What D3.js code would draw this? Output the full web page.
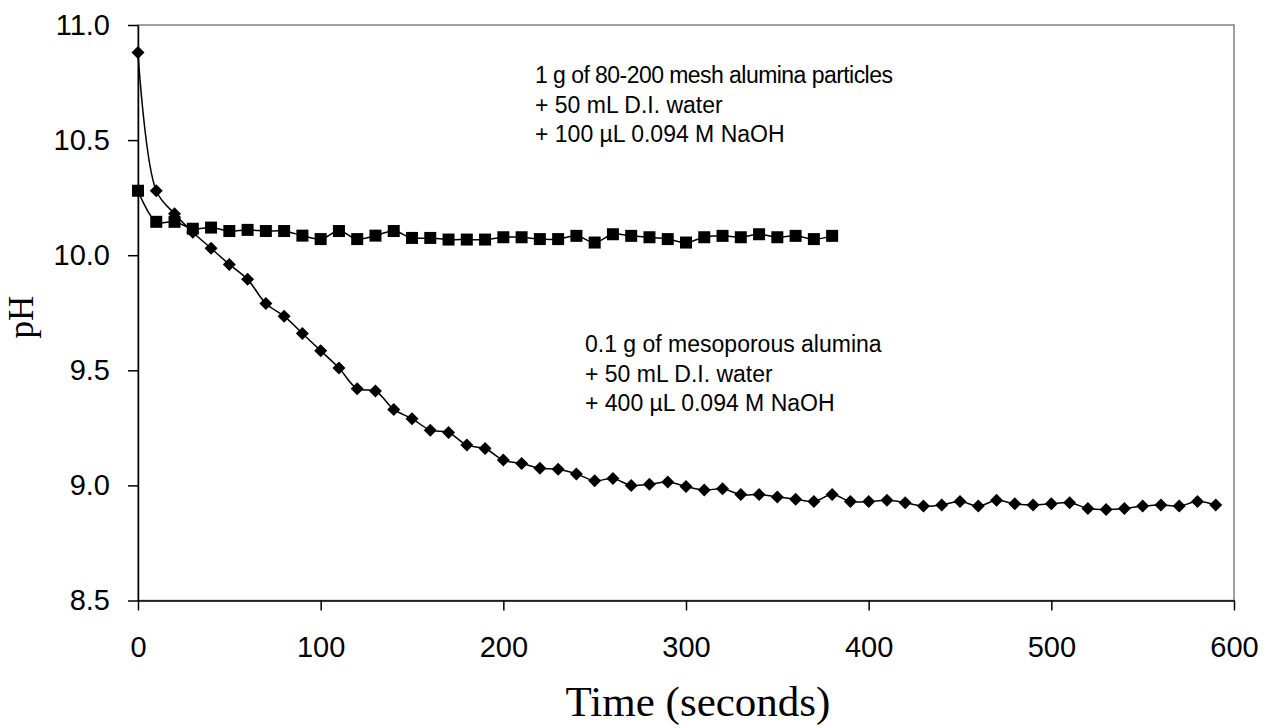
<!DOCTYPE html>
<html>
<head>
<meta charset="utf-8">
<script src="https://cdn.jsdelivr.net/npm/d3@7"></script>
<style>
    body { margin: 0; background: #fff; }
    svg { display: block; }
</style>
</head>
<body>
<svg id="chart"></svg>
<script>
// time (s) for the mesoporous alumina run
const timeMeso = [0, 10, 20, 30, 40, 50, 60, 70, 80, 90,
    100, 110, 120, 130, 140, 150, 160, 170, 180, 190,
    200, 210, 220, 230, 240, 250, 260, 270, 280, 290,
    300, 310, 320, 330, 340, 350, 360, 370, 380, 390,
    400, 410, 420, 430, 440, 450, 460, 470, 480, 490,
    500, 510, 520, 530, 540, 550, 560, 570, 580, 590];
const phMeso = [10.88, 10.28, 10.18, 10.10, 10.03, 9.96, 9.895, 9.79, 9.735, 9.66,
    9.585, 9.51, 9.42, 9.41, 9.33, 9.29, 9.24, 9.23, 9.175, 9.16,
    9.11, 9.095, 9.075, 9.07, 9.05, 9.02, 9.03, 9.00, 9.005, 9.015,
    8.995, 8.98, 8.985, 8.96, 8.96, 8.95, 8.94, 8.93, 8.96, 8.93,
    8.93, 8.935, 8.925, 8.91, 8.915, 8.93, 8.91, 8.935, 8.92, 8.915,
    8.92, 8.925, 8.90, 8.895, 8.90, 8.91, 8.915, 8.91, 8.93, 8.915];

// time (s) for the 80-200 mesh particle run
const timeMesh = [0, 10, 20, 30, 40, 50, 60, 70, 80, 90,
    100, 110, 120, 130, 140, 150, 160, 170, 180, 190,
    200, 210, 220, 230, 240, 250, 260, 270, 280, 290,
    300, 310, 320, 330, 340, 350, 360, 370, 380];
const phMesh = [10.28, 10.145, 10.145, 10.115, 10.12, 10.105, 10.11, 10.105, 10.105, 10.085,
    10.07, 10.105, 10.07, 10.085, 10.105, 10.075, 10.075, 10.068, 10.068, 10.068,
    10.078, 10.078, 10.07, 10.07, 10.084, 10.055, 10.091, 10.084, 10.078, 10.07,
    10.055, 10.078, 10.084, 10.078, 10.091, 10.078, 10.084, 10.07, 10.084];

const xTicks = [0, 100, 200, 300, 400, 500, 600];
const yTicks = [8.5, 9.0, 9.5, 10.0, 10.5, 11.0];

const noteMesh = ['1 g of 80-200 mesh alumina particles', '+ 50 mL D.I. water', '+ 100 µL 0.094 M NaOH'];
const noteMeso = ['0.1 g of mesoporous alumina', '+ 50 mL D.I. water', '+ 400 µL 0.094 M NaOH'];

const width = 1264, height = 728;
const margin = { top: 25, right: 30, bottom: 127.5, left: 138 };
const innerW = width - margin.left - margin.right;
const innerH = height - margin.top - margin.bottom;

const svg = d3.select('#chart')
    .attr('width', width)
    .attr('height', height);

const chart = svg.append('g')
    .attr('transform', `translate(${margin.left}, ${margin.top})`);

const xscale = d3.scaleLinear().domain([0, 600]).range([0, innerW]);
const yscale = d3.scaleLinear().domain([8.5, 11.0]).range([innerH, 0]);

// plot area border (top and right show grey)
chart.append('rect')
    .attr('x', 0).attr('y', 0)
    .attr('width', innerW).attr('height', innerH)
    .attr('fill', 'none')
    .attr('stroke', '#808080')
    .attr('stroke-width', 1.5);

const xaxis = d3.axisBottom(xscale)
    .tickValues(xTicks)
    .tickSize(10)
    .tickSizeOuter(0)
    .tickPadding(26);

const yaxis = d3.axisLeft(yscale)
    .tickValues(yTicks)
    .tickFormat(d3.format('.1f'))
    .tickSize(10)
    .tickSizeOuter(0)
    .tickPadding(18);

const xg = chart.append('g')
    .attr('transform', `translate(0, ${innerH})`)
    .call(xaxis);
const yg = chart.append('g').call(yaxis);

[xg, yg].forEach(g => {
    g.select('.domain').attr('stroke', '#000').attr('stroke-width', 1.5);
    g.selectAll('.tick line').attr('stroke', '#000').attr('stroke-width', 1.5);
    g.selectAll('.tick text')
        .attr('fill', '#000')
        .style('font-family', '"Liberation Sans", Arial, sans-serif')
        .style('font-size', '29px');
});

// axis titles
svg.append('text')
    .attr('x', 698)
    .attr('y', 716)
    .attr('text-anchor', 'middle')
    .style('font-family', '"Liberation Serif", "Times New Roman", serif')
    .style('font-size', '43px')
    .text('Time (seconds)');

svg.append('text')
    .attr('transform', 'translate(33, 317) rotate(-90)')
    .attr('text-anchor', 'middle')
    .style('font-family', '"Liberation Serif", "Times New Roman", serif')
    .style('font-size', '35px')
    .text('pH');

// series
const meso = timeMeso.map((t, i) => ({ x: t, y: phMeso[i] }));
const mesh = timeMesh.map((t, i) => ({ x: t, y: phMesh[i] }));

const line = d3.line()
    .x(d => xscale(d.x))
    .y(d => yscale(d.y))
    .curve(d3.curveCatmullRom.alpha(0.5));

chart.append('path')
    .attr('d', line(meso))
    .attr('fill', 'none')
    .attr('stroke', '#000')
    .attr('stroke-width', 1.5);

chart.append('path')
    .attr('d', line(mesh))
    .attr('fill', 'none')
    .attr('stroke', '#000')
    .attr('stroke-width', 1.5);

chart.selectAll('.diamond')
    .data(meso)
    .enter()
    .append('path')
    .attr('class', 'diamond')
    .attr('transform', d => `translate(${xscale(d.x)}, ${yscale(d.y)})`)
    .attr('d', 'M0,-6.5L6.5,0L0,6.5L-6.5,0Z')
    .attr('fill', '#000');

chart.selectAll('.square')
    .data(mesh)
    .enter()
    .append('rect')
    .attr('class', 'square')
    .attr('x', d => xscale(d.x) - 6)
    .attr('y', d => yscale(d.y) - 6)
    .attr('width', 12)
    .attr('height', 12)
    .attr('fill', '#000');

// annotations
function note(lines, x, y) {
    const t = svg.append('text')
        .attr('x', x)
        .attr('y', y)
        .style('font-family', '"Liberation Sans", Arial, sans-serif')
        .style('font-size', '23px')
        .attr('fill', '#000');
    lines.forEach((s, i) => {
        t.append('tspan')
            .attr('x', x)
            .attr('dy', i === 0 ? 0 : 29.5)
            .style('letter-spacing', s.length > 30 ? '-0.55px' : null)
            .text(s);
    });
}

note(noteMesh, 535, 83);
note(noteMeso, 585, 352);
</script>
</body>
</html>
